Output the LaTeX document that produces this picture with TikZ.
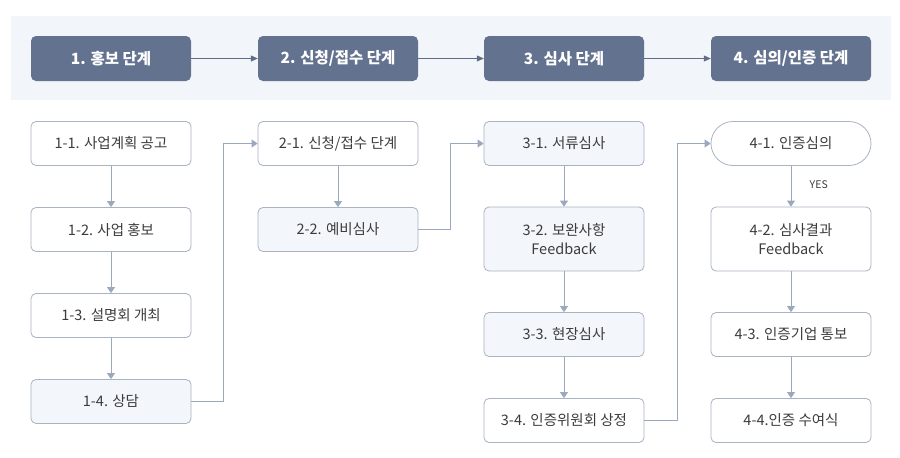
\documentclass[tikz,border=0pt]{standalone}
\usepackage{fontspec}
\setmainfont{Noto Sans CJK KR}
\usetikzlibrary{arrows.meta}
\definecolor{band}{HTML}{F2F5FA}
\definecolor{head}{HTML}{63728F}
\definecolor{headarr}{HTML}{5F6D87}
\definecolor{bord}{HTML}{A9B3C2}
\definecolor{lite}{HTML}{F3F6FB}
\definecolor{arr}{HTML}{9AA9BE}
\definecolor{txt}{HTML}{3C3C3C}
\tikzset{
  headbox/.style={fill=head, rounded corners=5pt, minimum width=160pt, minimum height=45pt, inner sep=0pt, text=white, font=\fontsize{15.5}{18}\selectfont\bfseries},
  subbox/.style={draw=bord, line width=0.8pt, fill=white, rounded corners=5pt, minimum width=160pt, minimum height=44pt, inner sep=0pt, text=txt, align=center, font=\fontsize{14.5}{19.5}\selectfont},
  litebox/.style={subbox, fill=lite},
  tallbox/.style={minimum height=64pt},
  pill/.style={subbox, rounded corners=22pt},
  headarrow/.style={draw=headarr, line width=0.8pt, -{Triangle[width=6pt,length=7pt]}},
  subarrow/.style={draw=arr, line width=0.8pt, -{Triangle[width=8pt,length=6pt]}},
}
\begin{document}
\begin{tikzpicture}[x=1pt,y=-1pt]
\useasboundingbox (0,0) rectangle (900,458);
\fill[white] (0,0) rectangle (900,458);
\fill[band] (11,16) rectangle (891,100);
% headers
\node[headbox] (h1) at (111,58.5) {1. 홍보 단계};
\node[headbox] (h2) at (338,58.5) {2. 신청/접수 단계};
\node[headbox] (h3) at (564,58.5) {3. 심사 단계};
\node[headbox] (h4) at (791,58.5) {4. 심의/인증 단계};
\draw[headarrow] (h1) -- (h2);
\draw[headarrow] (h2) -- (h3);
\draw[headarrow] (h3) -- (h4);
% column 1
\node[subbox] (a1) at (111,143.5) {1-1. 사업계획 공고};
\node[subbox] (a2) at (111,229.5) {1-2. 사업 홍보};
\node[subbox] (a3) at (111,315.5) {1-3. 설명회 개최};
\node[litebox] (a4) at (111,401.5) {1-4. 상담};
% column 2
\node[subbox] (b1) at (338,143.5) {2-1. 신청/접수 단계};
\node[litebox] (b2) at (338,229.5) {2-2. 예비심사};
% column 3
\node[litebox] (c1) at (564,143.5) {3-1. 서류심사};
\node[litebox,tallbox] (c2) at (564,239) {3-2. 보완사항\\Feedback};
\node[litebox] (c3) at (564,334.5) {3-3. 현장심사};
\node[subbox] (c4) at (564,420.5) {3-4. 인증위원회 상정};
% column 4
\node[pill] (d1) at (791,143.5) {4-1. 인증심의};
\node[subbox,tallbox] (d2) at (791,239) {4-2. 심사결과\\Feedback};
\node[subbox] (d3) at (791,334.5) {4-3. 인증기업 통보};
\node[subbox] (d4) at (791,420.5) {4-4.인증 수여식};
% vertical arrows
\draw[subarrow] (a1) -- (a2);
\draw[subarrow] (a2) -- (a3);
\draw[subarrow] (a3) -- (a4);
\draw[subarrow] (b1) -- (b2);
\draw[subarrow] (c1) -- (c2);
\draw[subarrow] (c2) -- (c3);
\draw[subarrow] (c3) -- (c4);
\draw[subarrow] (d1) -- node[right, xshift=15pt, pos=0.45, text=txt, font=\fontsize{10.5}{12}\selectfont] (yes) {YES} (d2);
\draw[subarrow] (d2) -- (d3);
\draw[subarrow] (d3) -- (d4);
% column links
\draw[subarrow] (a4.east) -- ++(32,0) |- (b1.west);
\draw[subarrow] (b2.east) -- ++(32,0) |- (c1.west);
\draw[subarrow] (c4.east) -- ++(33,0) |- (d1.west);
\end{tikzpicture}
\end{document}
